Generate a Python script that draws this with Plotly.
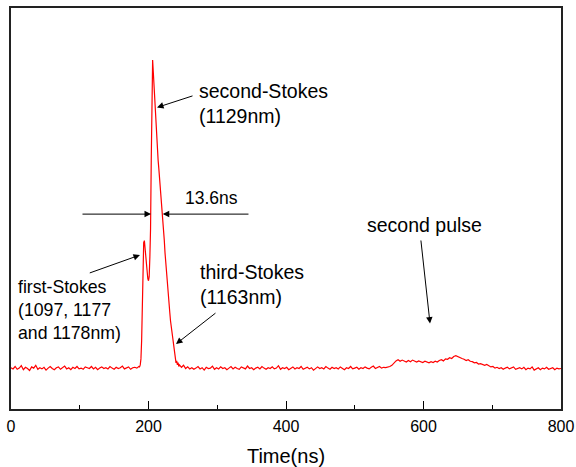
import plotly.graph_objects as go

# ---------------- data ----------------
# time axis segments (ns)
t_pre = list(range(0, 187, 3))        # baseline before the pulse
t_pulse = list(range(187, 246, 1))    # main pulse region
t_post = list(range(248, 801, 3))     # after the pulse, incl. second pulse

sig_pre = [
    10.3, 10.0, 10.6, 9.9, 10.2, 10.8, 9.8, 10.4, 10.1, 9.6, 10.5, 10.2, 10.9, 9.9, 10.3, 10.0, 10.4, 9.7, 10.2, 10.6,
    10.1, 9.8, 10.3, 10.5, 9.9, 10.2, 10.7, 10.0, 10.3, 9.8, 10.4, 10.1, 10.6, 10.0, 10.2, 9.9, 10.5, 10.3, 10.1, 10.6,
    10.0, 10.4, 9.8, 10.2, 10.5, 10.1, 10.3, 10.0, 10.6, 10.2, 9.9, 10.4, 10.1, 10.3, 10.7, 10.0, 10.2, 10.5, 9.9, 10.3,
    10.4, 10.2, 10.6,
]

sig_pulse = [
    10.5, 11.0, 12.5, 17.0, 26.0, 35.0, 41.5, 42.0, 40.0, 37.0,
    34.5, 33.0, 32.5, 32.0, 33.0, 38.0, 45.0, 62.0, 80.0, 87.0,
    84.0, 80.5, 77.0, 74.0, 71.0, 68.0, 65.0, 62.0, 60.0, 58.0,
    56.0, 54.0, 51.5, 49.0, 47.0, 44.5, 42.0, 39.0, 36.5, 34.0,
    32.0, 30.0, 28.0, 26.0, 24.0, 22.0, 20.5, 19.0, 17.5, 16.5,
    15.0, 13.5, 12.5, 11.5, 12.0, 11.0, 11.6, 10.6, 11.0,
]

sig_post = [
    10.4, 10.9, 10.1, 10.5, 10.0, 10.3, 9.9, 10.2, 10.6, 10.0, 10.3, 9.7, 10.4, 10.1, 10.2, 10.7, 9.9, 10.3, 10.0, 10.5,
    10.1, 10.3, 9.8, 10.2, 10.6, 10.0, 10.4, 10.1, 9.9, 10.5, 10.2, 10.0, 10.7, 10.1, 10.3, 9.8, 10.2, 10.4, 10.0, 10.6,
    10.2, 9.9, 10.3, 10.1, 10.5, 10.0, 10.2, 10.8, 9.9, 10.3, 10.1, 10.4, 9.8, 10.2, 10.5, 10.0, 10.3, 10.1, 10.6, 9.9,
    10.2, 10.4, 10.0, 10.3, 9.7, 10.2, 10.5, 10.1, 10.3, 10.0, 10.6, 10.2, 9.9, 10.4, 10.1, 10.3, 10.0, 10.5, 10.2, 9.8,
    10.3, 10.1, 10.6, 10.0, 10.2, 10.4, 9.9, 10.3, 10.1, 10.5, 10.2, 10.0, 10.4, 10.7, 10.1, 10.3, 10.6, 10.2, 10.4, 10.3,
    10.4, 10.6, 10.9, 11.6, 12.0, 12.3, 11.9, 12.2, 12.0, 11.7, 12.1, 11.8, 12.2, 11.9, 11.7, 12.0, 11.8, 11.6, 11.9, 11.7,
    11.5, 11.8, 11.6, 11.9, 11.7, 12.1, 12.3, 12.0, 12.5, 12.4, 12.8, 12.6, 13.1, 13.3, 13.0, 12.9, 12.6, 12.4, 12.1, 12.3,
    11.9, 11.8, 11.5, 11.6, 11.2, 11.3, 11.0, 10.9, 11.1, 10.7, 10.5, 10.6, 10.2, 10.4, 10.1, 10.3, 9.9, 10.2, 10.4, 10.0,
    10.2, 10.5, 9.9, 10.1, 10.3, 10.0, 10.4, 9.8, 10.2, 10.0, 10.5, 9.7, 10.1, 10.3, 9.8, 10.2, 10.0, 10.4, 9.9, 10.1,
    10.3, 9.8, 10.2, 10.0, 10.1,
]

x_ticks = [0, 200, 400, 600, 800]
x_tick_labels = ["0", "200", "400", "600", "800"]
x_title = "Time(ns)"

time = t_pre + t_pulse + t_post
signal = sig_pre + sig_pulse + sig_post

FONT = "Liberation Sans, Arial, sans-serif"

fig = go.Figure()
fig.add_trace(go.Scatter(
    x=time, y=signal, mode="lines",
    line=dict(color="#ff0000", width=1.2),
    showlegend=False, hoverinfo="skip",
))

# ---------------- annotations ----------------
texts = [
    dict(x=270.5, y=76.3, text="second-Stokes<br>(1129nm)", size=19.5),
    dict(x=249.7, y=52.5, text="13.6ns", size=17.5),
    dict(x=7.3, y=24.7, text="first-Stokes<br>(1097, 1177<br>and 1178nm)", size=17.7),
    dict(x=272.4, y=31.1, text="third-Stokes<br>(1163nm)", size=19.5),
    dict(x=514.9, y=45.9, text="second pulse", size=19.5),
]
annotations = []
for t in texts:
    annotations.append(dict(
        x=t["x"], y=t["y"], xref="x", yref="y", text=t["text"],
        showarrow=False, xanchor="left", yanchor="middle", align="left",
        font=dict(family=FONT, size=t["size"], color="#000000"),
    ))

# arrows: (tip_x, tip_y, tail_x, tail_y)
arrows = [
    (212.4, 75.2, 266.2, 78.2),
    (203.6, 48.6, 101.8, 48.6),
    (220.7, 48.6, 347.6, 48.6),
    (187.6, 38.4, 112.4, 33.8),
    (240.0, 16.2, 299.6, 24.2),
    (609.5, 21.3, 596.0, 42.4),
]
for (tx, ty, sx, sy) in arrows:
    annotations.append(dict(
        x=tx, y=ty, xref="x", yref="y", ax=sx, ay=sy, axref="x", ayref="y",
        text="", showarrow=True, arrowhead=2, arrowsize=1.3, arrowwidth=1,
        arrowcolor="#000000", standoff=0, startstandoff=0,
    ))

fig.update_layout(
    width=576, height=467,
    margin=dict(l=11, r=15, t=8, b=58),
    paper_bgcolor="white", plot_bgcolor="white",
    font=dict(family=FONT, color="#000000"),
    annotations=annotations,
    xaxis=dict(
        range=[0, 800], tickmode="array", tickvals=x_ticks, ticktext=x_tick_labels,
        ticks="inside", ticklen=8, tickwidth=1.2, tickcolor="#000000",
        minor=dict(dtick=100, tick0=0, ticks="inside", ticklen=4, tickwidth=1.2, tickcolor="#000000"),
        showline=True, mirror=True, linecolor="#222222", linewidth=1.5,
        showgrid=False, zeroline=False, ticklabelstandoff=2, automargin=False,
        tickfont=dict(family=FONT, size=16, color="#000000"),
        title=dict(text=x_title, font=dict(family=FONT, size=20, color="#000000"), standoff=16),
    ),
    yaxis=dict(
        range=[0, 100], showticklabels=False, ticks="", automargin=False,
        showline=True, mirror=True, linecolor="#222222", linewidth=1.5,
        showgrid=False, zeroline=False,
    ),
)

fig.write_html("out.html")
